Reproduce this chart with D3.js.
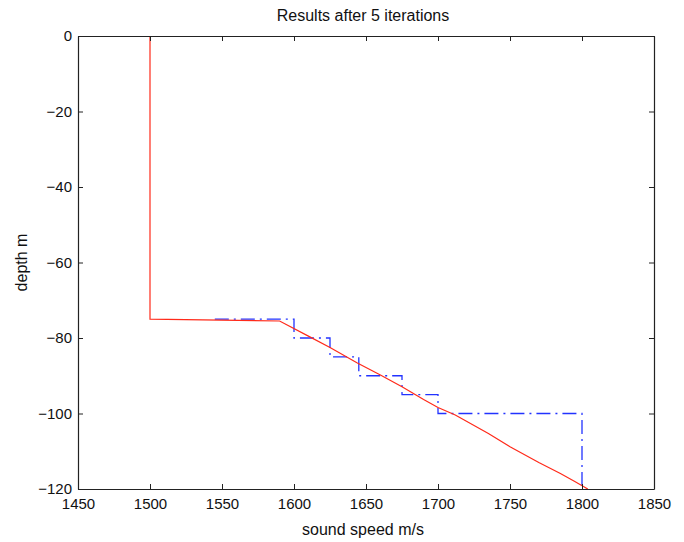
<!DOCTYPE html>
<html>
<head>
<meta charset="utf-8">
<script src="https://cdn.jsdelivr.net/npm/d3@7"></script>
<style>
  body { margin: 0; background: #fff; }
  text { font-family: "Liberation Sans", Arial, sans-serif; fill: #111; }
</style>
</head>
<body>
<script>
// estimated profile (red) : sound speed m/s, depth m
var estSpeed = [1500, 1500, 1590, 1610, 1625, 1644, 1660, 1675, 1690, 1700, 1712, 1735, 1750, 1770, 1785, 1795, 1804];
var estDepth = [0, -75, -75.5, -79.5, -82.5, -86.6, -89.8, -92.9, -96.3, -98.4, -100.4, -105.3, -108.8, -113, -115.9, -118, -120];

// layered profile (blue dash-dot)
var layerSpeed = [1545, 1600, 1600, 1625, 1625, 1645, 1645, 1675, 1675, 1700, 1700, 1800, 1800];
var layerDepth = [-75, -75, -80, -80, -85, -85, -90, -90, -95, -95, -100, -100, -120];

var xTicks = [1450, 1500, 1550, 1600, 1650, 1700, 1750, 1800, 1850];
var yTicks = [0, -20, -40, -60, -80, -100, -120];

var width = 684, height = 542;
var margin = {left: 78, right: 30, top: 36, bottom: 53};
var w = width - margin.left - margin.right;
var h = height - margin.top - margin.bottom;

var x = d3.scaleLinear().domain([1450, 1850]).range([0, w]);
var y = d3.scaleLinear().domain([-120, 0]).range([h, 0]);

var svg = d3.select("body").append("svg").attr("width", width).attr("height", height);
var g = svg.append("g").attr("transform", "translate(" + margin.left + "," + margin.top + ")");

var line = d3.line()
    .x(function(d){ return x(d[0]); })
    .y(function(d){ return y(d[1]); });

var est = estSpeed.map(function(s, i){ return [s, estDepth[i]]; });
var layers = layerSpeed.map(function(s, i){ return [s, layerDepth[i]]; });

g.append("path").attr("d", line(layers))
    .attr("fill", "none").attr("stroke", "#2233ff").attr("stroke-width", 1.3)
    .attr("stroke-dasharray", "14,5,2,5");
g.append("path").attr("d", line(est))
    .attr("fill", "none").attr("stroke", "#ff2a1a").attr("stroke-width", 1.2);

// axes, ticks pointing inwards
var fmt = function(d){ return d3.format("d")(d).replace("-", "\u2212"); };
var xAxis = d3.axisBottom(x).tickValues(xTicks).tickSizeInner(-5).tickSizeOuter(0).tickPadding(9).tickFormat(fmt);
var yAxis = d3.axisLeft(y).tickValues(yTicks).tickSizeInner(-5).tickSizeOuter(0).tickPadding(6).tickFormat(fmt);

g.append("g").attr("transform", "translate(0," + h + ")").call(xAxis);
g.append("g").call(yAxis);
g.append("g").call(d3.axisTop(x).tickValues(xTicks).tickSizeInner(-5).tickSizeOuter(0).tickFormat(""));
g.append("g").attr("transform", "translate(" + w + ",0)")
    .call(d3.axisRight(y).tickValues(yTicks).tickSizeInner(-5).tickSizeOuter(0).tickFormat(""));

g.selectAll(".domain").attr("stroke", "#222").attr("stroke-width", 1.2);
g.selectAll(".tick line").attr("stroke", "#222");
g.selectAll(".tick text").style("font-size", "15px").attr("fill", "#111");

svg.append("text").attr("x", margin.left + w / 2 - 3).attr("y", 21)
    .attr("text-anchor", "middle").style("font-size", "16px").text("Results after 5 iterations");
svg.append("text").attr("x", margin.left + w / 2 - 3).attr("y", 535)
    .attr("text-anchor", "middle").style("font-size", "16px").text("sound speed m/s");
svg.append("text").attr("transform", "translate(27," + (margin.top + h / 2) + ") rotate(-90)")
    .attr("text-anchor", "middle").style("font-size", "16px").text("depth m");
</script>
</body>
</html>
